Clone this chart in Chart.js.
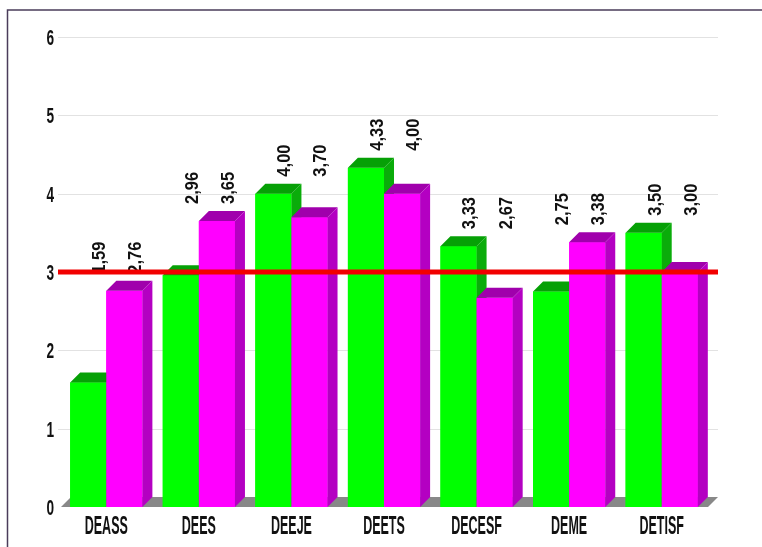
<!DOCTYPE html>
<html>
<head>
<meta charset="utf-8">
<script src="https://cdn.jsdelivr.net/npm/chart.js@4/dist/chart.umd.min.js"></script>
<style>
  html, body { margin:0; padding:0; background:#fff; }
  #wrap { width:762px; height:547px; position:relative; }
</style>
</head>
<body>
<div id="wrap"><canvas id="bar" width="762" height="547"></canvas></div>
<script>
// datos
const categorias = ["DEASS", "DEES", "DEEJE", "DEETS", "DECESF", "DEME", "DETISF"];
const serieVerde = [1.59, 2.96, 4.00, 4.33, 3.33, 2.75, 3.50];
const serieMagenta = [2.76, 3.65, 3.70, 4.00, 2.67, 3.38, 3.00];
const referencia = 3;
const ticksY = [0, 1, 2, 3, 4, 5, 6];

const FONT = "'Liberation Sans', Arial, sans-serif";
const DEPTH = 10;
const caras = [
  { front: "#00ff00", top: "#06a006", side: "#0aac0a" },
  { front: "#ff00ff", top: "#a000ac", side: "#b400c2" }
];

const fmt = v => v.toFixed(2).replace(".", ",");

function texto(ctx, s, x, y, font, sx, align, rot) {
  ctx.save();
  ctx.translate(x, y);
  if (rot) ctx.rotate(rot);
  ctx.scale(sx, 1);
  ctx.font = font;
  ctx.fillStyle = "#111";
  ctx.textAlign = align;
  ctx.textBaseline = "middle";
  ctx.fillText(s, 0, 0);
  ctx.restore();
}

const fondo = {
  id: "fondo",
  beforeDatasetsDraw(chart) {
    const { ctx, chartArea: a, scales: { x, y } } = chart;
    // rejilla
    ctx.save();
    ctx.strokeStyle = "#e2e2e2";
    ctx.lineWidth = 1;
    ticksY.forEach(t => {
      if (t === 0) return;
      const py = Math.round(y.getPixelForValue(t)) + 0.5;
      ctx.beginPath(); ctx.moveTo(a.left - 2, py); ctx.lineTo(a.right + DEPTH, py); ctx.stroke();
    });
    // suelo
    const b = y.getPixelForValue(0);
    ctx.fillStyle = "#888";
    ctx.beginPath();
    ctx.moveTo(a.left + 1, b); ctx.lineTo(a.right, b);
    ctx.lineTo(a.right + DEPTH, b - DEPTH); ctx.lineTo(a.left + 1 + DEPTH, b - DEPTH);
    ctx.closePath(); ctx.fill();
    ctx.restore();
  },
  afterDatasetsDraw(chart) {
    const { ctx, chartArea: a, scales: { x, y } } = chart;
    const metas = [chart.getDatasetMeta(0), chart.getDatasetMeta(1)];
    ctx.save();
    // barras 3D, por categoría
    categorias.forEach((c, i) => {
      metas.forEach((m, d) => {
        const p = m.data[i].getProps(["x", "y", "base", "width"], true);
        const l = p.x - p.width / 2, r = p.x + p.width / 2;
        const col = caras[d];
        ctx.fillStyle = col.front;
        ctx.fillRect(l, p.y, p.width, p.base - p.y);
        ctx.fillStyle = col.top;
        ctx.beginPath();
        ctx.moveTo(l, p.y); ctx.lineTo(l + DEPTH, p.y - DEPTH);
        ctx.lineTo(r + DEPTH, p.y - DEPTH); ctx.lineTo(r, p.y); ctx.closePath(); ctx.fill();
        ctx.fillStyle = col.side;
        ctx.beginPath();
        ctx.moveTo(r, p.y); ctx.lineTo(r + DEPTH, p.y - DEPTH);
        ctx.lineTo(r + DEPTH, p.base - DEPTH); ctx.lineTo(r, p.base); ctx.closePath(); ctx.fill();
      });
      // etiquetas de valor
      const top = Math.min(...metas.map(m => m.data[i].y));
      metas.forEach((m, d) => {
        const v = chart.data.datasets[d].data[i];
        texto(ctx, fmt(v), m.data[i].x + 12, top - DEPTH - 7, "bold 18px " + FONT, 0.92, "left", -Math.PI / 2);
      });
      // categoría
      texto(ctx, c, x.getPixelForValue(i), 527, "bold 25px " + FONT, 0.5, "center");
    });
    // ticks eje Y
    ticksY.forEach(t => texto(ctx, String(t), 54, y.getPixelForValue(t) + 2, "bold 22px " + FONT, 0.62, "right"));
    // línea de referencia
    const ry = y.getPixelForValue(referencia);
    ctx.strokeStyle = "#f20000";
    ctx.lineWidth = 5;
    ctx.beginPath(); ctx.moveTo(a.left - 2, ry); ctx.lineTo(a.right + DEPTH, ry); ctx.stroke();
    // marco
    ctx.strokeStyle = "#4a3c5a";
    ctx.lineWidth = 1.5;
    ctx.beginPath(); ctx.moveTo(7.5, 547); ctx.lineTo(7.5, 10); ctx.lineTo(762, 10); ctx.stroke();
    ctx.restore();
  }
};

new Chart(document.getElementById("bar").getContext("2d"), {
  type: "bar",
  data: {
    labels: categorias,
    datasets: [
      { data: serieVerde, backgroundColor: caras[0].front },
      { data: serieMagenta, backgroundColor: caras[1].front }
    ]
  },
  options: {
    responsive: false,
    animation: false,
    events: [],
    layout: { padding: { left: 60, right: 54, top: 37, bottom: 40 } },
    datasets: { bar: { categoryPercentage: 0.78, barPercentage: 1 } },
    plugins: { legend: { display: false }, tooltip: { enabled: false } },
    scales: {
      x: { display: false },
      y: { display: false, min: 0, max: 6 }
    }
  },
  plugins: [fondo]
});
</script>
</body>
</html>
